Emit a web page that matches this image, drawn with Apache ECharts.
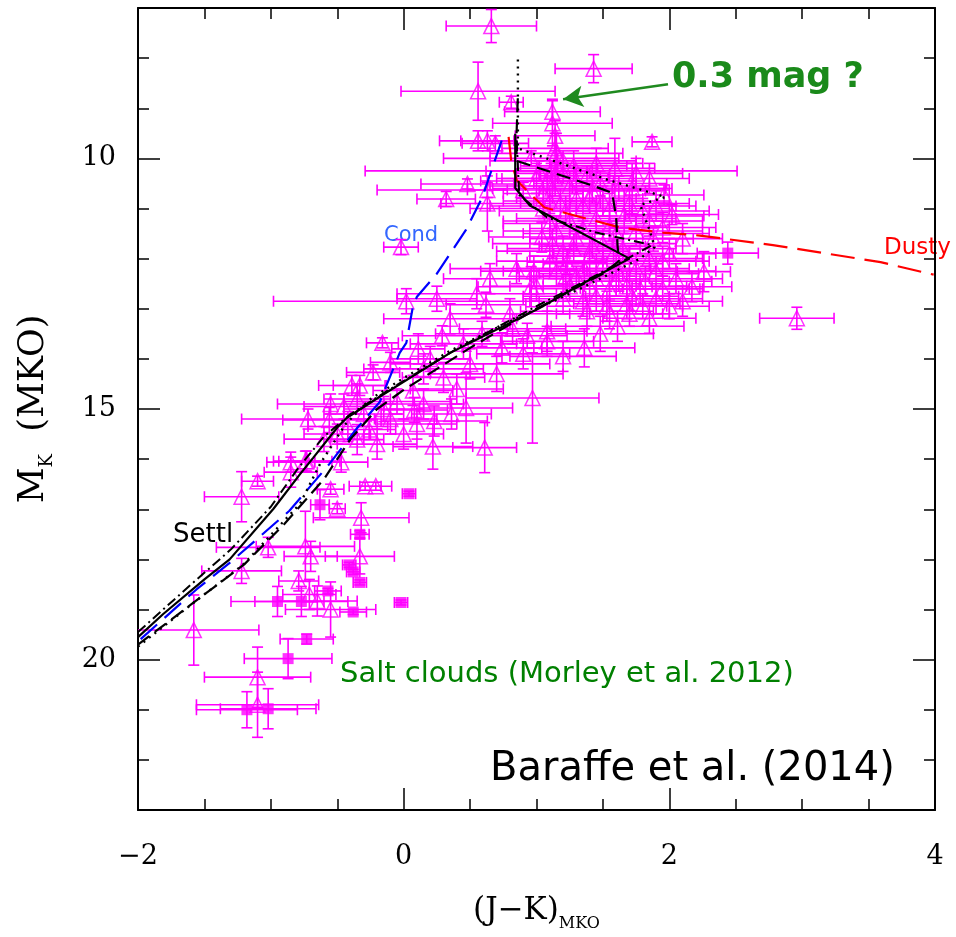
<!DOCTYPE html>
<html><head><meta charset="utf-8">
<script src="https://cdn.jsdelivr.net/npm/echarts@6/dist/echarts.min.js"></script>
<style>html,body{margin:0;padding:0;background:#fff}#c{width:956px;height:937px}</style>
</head><body><div id="c"></div>
<script>
// ---- tick labels ----
const xTickLabels = [-2, 0, 2, 4];
const yTickLabels = [10, 15, 20];

// ---- observed dwarfs: [J-K, M_K, err(J-K), err(M_K)] ----
const fieldDwarfs = [
  [0.66,7.36,0.34,0.33],[1.43,8.21,0.29,0.28],[0.56,8.66,0.58,0.58],[0.81,8.88,0.09,0.12],
  [1.12,9.07,0.36,0.25],[1.12,9.3,0.45,0.45],[1.14,9.55,0.3,0.3],[0.56,9.65,0.29,0.2],
  [0.63,9.65,0.2,0.2],[0.69,9.70,0.25,0.15],[1.87,9.67,0.15,0.1],[0.96,10.0,0.66,0.15],
  [1.14,9.8,0.4,0.3],[0.48,10.51,0.35,0.1],[0.32,10.81,0.22,0.15],[0.63,10.63,0.15,0.15],
  [0.63,10.9,0.35,0.55],[1.15,9.9,0.5,0.4],[1.16,10.2,0.3,0.3],[1.14,10.4,0.4,0.35],
  [1.12,10.6,0.45,0.3],[1.11,10.25,1.4,0.15],[0.9,10.63,1.1,0.15],
  [1.02,10.25,0.4,0.2],[1.08,10.45,0.5,0.25],[1.2,10.3,0.35,0.2],[1.25,10.55,0.6,0.3],
  [1.3,10.8,0.45,0.25],[1.18,10.9,0.3,0.3],[1.05,11.0,0.55,0.2],[1.35,10.95,0.7,0.3],
  [1.42,10.65,0.4,0.25],[1.5,10.85,0.5,0.3],[1.59,10.2,0.3,0.6],[1.62,10.6,0.35,0.25],
  [1.7,10.9,0.45,0.3],[1.66,11.15,0.6,0.35],[1.8,11.05,0.5,0.25],[1.96,10.73,0.3,0.2],
  [2.02,11.12,0.35,0.2],[1.95,11.38,0.4,0.3],[1.88,11.6,0.3,0.25],[1.75,11.45,0.5,0.3],
  [1.55,11.35,0.45,0.3],[1.45,11.2,0.6,0.3],[1.25,11.25,0.5,0.35],[1.15,11.45,0.4,0.3],
  [1.04,11.57,0.4,0.3],[1.3,11.6,0.35,0.25],[1.5,11.7,0.55,0.3],[1.65,11.8,0.4,0.3],
  [1.4,11.95,0.45,0.35],[1.2,11.85,0.5,0.3],[1.1,12.05,0.4,0.3],[1.05,10.7,0.3,0.25],
  [1.28,10.15,0.4,0.3],[1.38,10.35,0.35,0.2],[1.48,10.5,0.5,0.25],[1.2,10.05,0.55,0.2],
  [1.85,10.4,0.3,0.3],[1.72,10.6,0.3,0.5],[1.6,11.5,0.7,0.3],[1.35,11.4,0.4,0.2],
  [1.36,12.2,0.5,0.3],[1.5,12.1,0.45,0.25],[1.62,12.3,0.6,0.35],[1.75,12.2,0.4,0.3],
  [1.9,12.25,0.45,0.3],[2.0,11.9,0.35,0.3],[2.17,12.56,0.3,0.3],[2.26,12.26,0.2,0.4],
  [1.82,12.45,0.5,0.3],[1.68,12.55,0.45,0.3],[1.55,12.6,0.6,0.25],[1.45,12.4,0.4,0.35],
  [1.95,12.6,0.3,0.25],[2.05,12.4,0.35,0.3],[1.38,13.05,0.5,0.3],[1.53,12.95,0.45,0.3],
  [1.68,12.9,0.4,0.3],[1.8,12.95,0.3,0.25],[1.85,13.19,0.35,0.3],[1.61,13.35,0.5,0.3],
  [1.36,13.78,0.38,0.38],[1.45,12.75,0.55,0.3],[1.72,12.75,0.35,0.3],[2.1,12.85,0.3,0.3],
  [1.3,12.35,0.35,0.2],[1.25,12.55,0.45,0.3],[1.2,12.8,0.3,0.3],[2.96,13.19,0.28,0.22],
  [1.0,12.55,0.35,0.3],[1.23,12.07,0.3,0.25],[1.22,12.36,0.35,0.3],[0.96,12.56,0.4,0.4],
  [1.12,11.7,0.45,0.3],[1.28,11.8,0.5,0.3],[1.42,11.75,0.4,0.25],[1.58,11.9,0.45,0.3],
  [1.7,12.05,0.5,0.3],[1.85,12.0,0.4,0.25],[1.15,12.25,0.4,0.3],[1.4,12.55,0.35,0.3],
  [1.6,12.45,0.4,0.3],[1.78,12.6,0.45,0.3],[1.9,12.8,0.35,0.3],[1.35,12.85,0.4,0.3],
  [1.55,13.1,0.4,0.3],[1.7,13.1,0.3,0.25],[1.95,12.05,0.35,0.3],[1.1,11.3,0.35,0.3],
  [1.22,11.05,0.5,0.3],[1.4,10.8,0.4,0.3],[1.55,11.0,0.45,0.3],[1.85,11.25,0.4,0.3],
  [1.0,10.4,0.3,0.3],[1.1,10.85,0.35,0.25],[1.3,10.45,0.45,0.25],[1.45,10.1,0.35,0.3],
  [1.75,10.3,0.35,0.3],[1.9,10.95,0.3,0.3],[2.1,11.6,0.3,0.3],[2.0,12.95,0.3,0.25],
  [1.48,13.5,0.4,0.35],[0.98,12.25,0.4,0.3],
  [-0.02,11.77,0.13,0.15],[0.02,12.85,1.0,0.25],[0.25,12.8,0.3,0.25],[0.62,12.92,0.3,0.25],
  [-0.16,13.68,0.12,0.1],[0.11,13.8,0.2,0.3],[0.29,13.54,0.3,0.2],[0.59,13.5,0.35,0.25],
  [0.74,13.78,0.3,0.3],[0.9,13.9,0.35,0.3],[0.82,13.4,0.4,0.3],[0.93,13.54,0.3,0.25],
  [1.08,13.45,0.3,0.4],[1.08,13.65,0.35,0.3],[-0.1,14.07,0.15,0.2],[-0.23,14.27,0.2,0.15],
  [0.3,14.37,0.31,0.3],[-0.39,14.53,0.25,0.2],[-0.33,14.53,0.2,0.2],[0.07,14.63,0.3,0.3],
  [0.97,14.78,0.5,0.9],[0.47,14.98,0.35,0.7],[0.36,15.1,0.3,0.3],[0.23,15.24,0.4,0.3],
  [0.08,15.02,0.25,0.25],[-0.26,15.41,0.2,0.2],[-0.56,15.22,0.35,0.25],[0.22,15.75,0.3,0.45],
  [0.61,15.77,0.24,0.5],[-0.47,16.06,0.2,0.2],[-0.73,16.04,0.25,0.2],[0.5,14.1,0.6,0.3],
  [0.7,14.3,0.5,0.35],[0.15,14.2,0.45,0.3],[-0.05,14.85,0.4,0.25],[-0.15,15.0,0.3,0.25],
  [-0.35,14.8,0.25,0.3],[-0.45,14.95,0.3,0.25],[-0.5,15.5,0.25,0.2],[-0.35,15.61,0.2,0.3],
  [-0.2,15.7,0.3,0.3],[0.1,15.3,0.3,0.3],[0.35,13.2,0.5,0.3],[0.55,12.7,0.6,0.3],
  [0.8,13.1,0.45,0.3],[0.45,13.7,0.4,0.3],[0.2,14.0,0.3,0.25],[1.2,13.95,0.4,0.3],
  [0.65,12.4,0.35,0.3],[0.85,12.2,0.5,0.3],[-0.72,15.2,0.5,0.2],
  [-0.1,15.2,0.35,0.3],[-0.3,15.1,0.3,0.25],[0.0,15.5,0.3,0.3],[-0.42,15.35,0.3,0.3],
  [0.15,14.9,0.3,0.3],[0.4,14.6,0.35,0.3],[-0.55,14.9,0.4,0.2],[-0.6,15.6,0.3,0.25],
  [-1.22,16.75,0.28,0.5],[-1.10,16.44,0.12,0.1],[-0.85,16.06,0.18,0.2],[-0.85,16.26,0.2,0.3],
  [-0.74,16.04,0.2,0.2],[-0.50,16.99,0.06,0.1],[-0.55,16.6,0.1,0.1],[-0.29,16.54,0.12,0.08],
  [-0.21,16.54,0.12,0.08],[-0.32,17.17,0.36,0.3],[-0.74,17.74,0.37,0.7],[-0.70,17.94,0.2,0.3],
  [-0.33,17.94,0.26,0.35],[-1.02,17.76,0.39,0.2],[-1.22,18.23,0.3,0.25],[-0.79,18.43,0.15,0.2],
  [-0.65,18.83,0.3,0.3],[-0.71,18.7,0.2,0.3],[-0.55,19.0,0.34,0.55],[-1.58,19.41,0.49,0.7],
  [-1.10,20.35,0.40,0.6],[-1.10,20.9,0.46,0.65]
];
// ---- salt-cloud candidates (filled squares) ----
const saltDwarfs = [
  [0.04,16.69,0.05,0.05],[-0.63,16.91,0.07,0.3],[-0.33,17.5,0.07,0.07],[-0.41,18.11,0.05,0.05],
  [-0.38,18.25,0.05,0.05],[-0.33,18.46,0.05,0.05],[-0.57,18.63,0.1,0.05],[-0.95,18.84,0.35,0.3],
  [-0.77,18.84,0.35,0.3],[-0.38,19.05,0.1,0.05],[-0.02,18.86,0.05,0.05],[-0.73,19.59,0.2,0.1],
  [-0.87,19.98,0.33,0.4],[-1.18,21.0,0.38,0.36],[-1.02,20.98,0.36,0.4],[2.44,11.89,0.23,0.22]
];
// ---- model tracks [J-K, M_K] ----
const settlSolid = [[-2.0,19.55],[-1.81,19.09],[-1.5,18.4],[-1.31,18.0],[-0.98,16.99],[-0.78,16.3],
  [-0.68,15.97],[-0.5,15.37],[-0.43,15.18],[-0.16,14.72],[0.35,13.88],[1.02,12.99],[1.33,12.52],
  [1.70,12.0],[0.95,10.94],[0.84,10.59],[0.84,9.51]];
const settlDashDot = [[-2.0,19.45],[-1.6,18.5],[-1.3,17.8],[-1.0,16.95],[-0.8,16.2],[-0.6,15.55],
  [-0.4,15.1],[-0.1,14.6],[0.4,13.8],[1.0,12.95],[1.4,12.4],[1.65,12.05],[1.87,11.73],
  [1.45,11.48],[1.08,11.18],[0.87,10.73],[0.85,9.6]];
const settlDashed = [[-2.0,19.7],[-1.6,18.9],[-1.2,18.1],[-0.9,17.3],[-0.6,16.4],[-0.4,15.6],
  [-0.2,15.0],[0.0,14.62],[0.5,13.78],[1.0,13.0],[1.5,12.3],[1.62,12.05],[1.61,11.73],
  [1.6,11.18],[1.57,10.69],[1.43,10.55],[0.85,10.05],[0.85,9.5],[0.86,8.75]];
const settlDotted = [[-2.0,19.74],[-1.56,18.82],[-1.21,18.11],[-0.78,16.89],[-0.63,16.1],
  [-0.44,15.31],[-0.26,14.82],[-0.03,14.43],[0.35,13.84],[0.72,13.35],[1.33,12.6],[1.78,12.0],
  [1.89,11.77],[1.85,11.42],[1.78,10.93],[1.97,10.77],[1.54,10.43],[0.86,9.80],[0.86,8.01]];
const condTrack = [[-1.98,19.59],[-1.56,18.6],[-1.31,18.07],[-0.86,17.03],[-0.56,16.1],[-0.35,15.38],
  [-0.18,14.86],[-0.03,13.88],[0.02,13.68],[0.07,12.95],[0.1,12.76],[0.25,12.3],[0.47,11.42],
  [0.59,10.79],[0.75,9.55]];
const dustyTrack = [[0.79,9.57],[0.81,10.06],[0.85,10.43],[0.96,10.73],[1.06,10.98],[1.63,11.38],
  [1.95,11.48],[2.23,11.54],[2.78,11.73],[3.59,12.07],[3.99,12.32]];
const arrowFrom = [1.99, 8.52], arrowTo = [1.20, 8.82];

const MAG = '#ff00ff';
function errRender(params, api){
  const x=api.value(0), y=api.value(1), ex=api.value(2), ey=api.value(3);
  const L=api.coord([x-ex,y]), R=api.coord([x+ex,y]), T=api.coord([x,y-ey]), B=api.coord([x,y+ey]);
  const c=5.5, st={stroke:MAG, lineWidth:1.6};
  const ln=(a,b,cc,d)=>({type:'line',shape:{x1:a,y1:b,x2:cc,y2:d},style:st});
  return {type:'group',children:[
    ln(L[0],L[1],R[0],R[1]), ln(T[0],T[1],B[0],B[1]),
    ln(L[0],L[1]-c,L[0],L[1]+c), ln(R[0],R[1]-c,R[0],R[1]+c),
    ln(T[0]-c,T[1],T[0]+c,T[1]), ln(B[0]-c,B[1],B[0]+c,B[1])
  ]};
}
const serif = 'DejaVu Serif';
const axisLineS = {show:true, onZero:false, lineStyle:{color:'#000', width:2}};
function xAx(pos, labels){
  return {type:'value', position:pos, min:-2, max:4, interval:2,
    axisLine:axisLineS, splitLine:{show:false},
    axisTick:{inside:true, length:22, lineStyle:{color:'#000', width:1.5}},
    minorTick:{show:true, splitNumber:4, length:11, lineStyle:{color:'#000', width:1.5}},
    axisLabel:{show:labels, margin:33, fontFamily:serif, fontSize:27, color:'#000',
      formatter:v=>xTickLabels.includes(v)?String(v).replace('-','\u2212'):''},
    name: labels ? '{p|(J\u2212K)}{s|MKO}' : '', nameLocation:'middle', nameGap:80,
    nameTextStyle:{rich:{p:{fontFamily:serif,fontSize:31,color:'#000',lineHeight:42,verticalAlign:'middle'},
      s:{fontFamily:serif,fontSize:16,color:'#000',lineHeight:42,verticalAlign:'bottom'}}}
  };
}
function yMinor(pos, labels){
  return {type:'value', position:pos, min:7, max:23, interval:1, inverse:true,
    axisLine:axisLineS, splitLine:{show:false},
    axisTick:{inside:true, length:11, lineStyle:{color:'#000', width:1.5}},
    axisLabel:{show:labels, margin:22, fontFamily:serif, fontSize:27, color:'#000',
      formatter:v=>yTickLabels.includes(v)?String(v):''},
    name: labels ? '{p|M}{s|K}{p|  (MKO)}' : '', nameLocation:'middle', nameGap:82, nameRotate:90,
    nameTextStyle:{rich:{p:{fontFamily:serif,fontSize:35,color:'#000',lineHeight:44,verticalAlign:'middle'},
      s:{fontFamily:serif,fontSize:18,color:'#000',lineHeight:44,verticalAlign:'bottom'}}}
  };
}
function yMajor(pos){
  return {type:'value', position:pos, min:7, max:23, interval:5, inverse:true,
    axisLine:{show:false, onZero:false}, splitLine:{show:false},
    axisTick:{inside:true, length:22, customValues:yTickLabels, lineStyle:{color:'#000', width:1.5}},
    axisLabel:{show:false}};
}
const option = {
  animation:false, backgroundColor:'#fff',
  grid:{left:138, right:21, top:8, bottom:119},
  xAxis:[xAx('bottom', true), xAx('top', false)],
  yAxis:[yMinor('left', true), yMajor('left'), yMinor('right', false), yMajor('right')],
  series:[
    {type:'custom', renderItem:errRender, data:fieldDwarfs.concat(saltDwarfs), clip:true, silent:true, z:2},
    {type:'scatter', data:fieldDwarfs.map(d=>[d[0],d[1]]), symbol:'triangle', symbolSize:15,
      itemStyle:{color:'rgba(0,0,0,0)', borderColor:MAG, borderWidth:1.5}, silent:true, z:3},
    {type:'scatter', data:saltDwarfs.map(d=>[d[0],d[1]]), symbol:'rect', symbolSize:11,
      itemStyle:{color:MAG}, silent:true, z:3},
    {type:'line', data:condTrack, showSymbol:false, lineStyle:{color:'#0000ff', width:2.2, type:[22,10]}, z:4},
    {type:'line', data:dustyTrack, showSymbol:false, lineStyle:{color:'#ff0000', width:2.2, type:[24,10]}, z:4},
    {type:'line', data:settlDotted, showSymbol:false, lineStyle:{color:'#000', width:2.4, type:[2,5]}, z:5},
    {type:'line', data:settlDashed, showSymbol:false, lineStyle:{color:'#000', width:2.2, type:[14,7]}, z:5},
    {type:'line', data:settlDashDot, showSymbol:false, lineStyle:{color:'#000', width:2.0, type:[10,4,2,4]}, z:5},
    {type:'line', data:settlSolid, showSymbol:false, lineStyle:{color:'#000', width:2.2}, z:5,
      markLine:{silent:true, symbol:['none','arrow'], symbolSize:[16,20], label:{show:false},
        lineStyle:{color:'#1f8a1f', width:2.5, type:'solid'},
        data:[[{coord:arrowFrom},{coord:arrowTo}]]}}
  ],
  graphic:[
    {type:'text', left:672, top:60, style:{text:'0.3 mag ?', fill:'#1a8a1a', font:'bold 35px "DejaVu Sans"'}},
    {type:'text', left:384, top:225, style:{text:'Cond', fill:'#3366ff', font:'21px "DejaVu Sans"'}},
    {type:'text', left:884, top:237, style:{text:'Dusty', fill:'#ff0000', font:'23px "DejaVu Sans"'}},
    {type:'text', left:173, top:522, style:{text:'Settl', fill:'#000', font:'26px "DejaVu Sans"'}},
    {type:'text', left:340, top:660, style:{text:'Salt clouds (Morley et al. 2012)', fill:'#008000', font:'29px "DejaVu Sans"'}},
    {type:'text', left:490, top:750, style:{text:'Baraffe et al. (2014)', fill:'#000', font:'40px "DejaVu Sans"'}}
  ]
};
const chart = echarts.init(document.getElementById('c'));
chart.setOption(option);
</script></body></html>
